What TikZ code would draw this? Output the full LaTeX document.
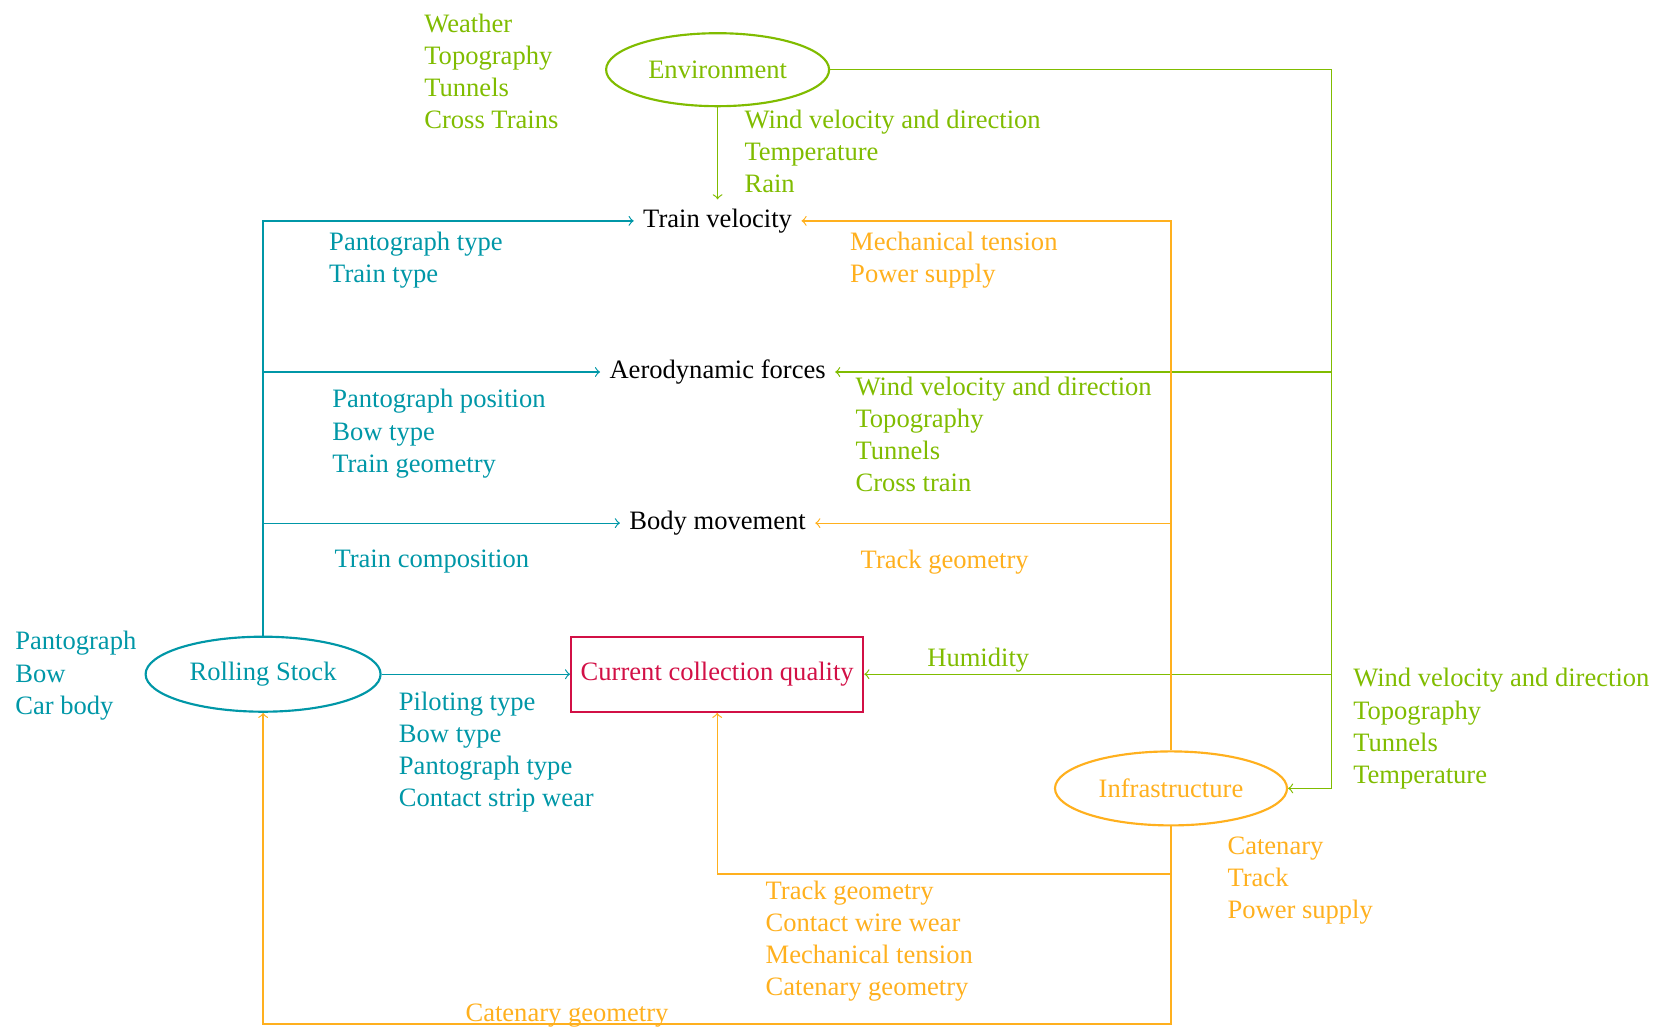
\documentclass[tikz,border=0pt]{standalone}
\usepackage{fontspec}
\setmainfont{Liberation Serif}
\usetikzlibrary{shapes.geometric}
\definecolor{cgreen}{RGB}{128,188,0}
\definecolor{cteal}{RGB}{0,151,167}
\definecolor{corange}{RGB}{255,176,30}
\definecolor{cred}{RGB}{210,16,70}
\begin{document}
\begin{tikzpicture}[x=0.3727pt,y=-0.3727pt,>=to,
  every node/.style={font=\fontsize{9.9pt}{12pt}\selectfont},
  ell/.style={ellipse,draw,line width=0.8pt,inner sep=0pt},
  lab/.style={anchor=north west,align=left,inner sep=0pt},
  gl/.style={cgreen,line width=0.45pt},
  tl/.style={cteal,line width=0.45pt},
  ol/.style={corange,line width=0.45pt}]
\useasboundingbox (0,0) rectangle (1657,1028);
% main nodes
\node[ell,cgreen,minimum width=223*0.3727pt,minimum height=73*0.3727pt] (env) at (717.6,69.7) {Environment};
\node[ell,cteal,minimum width=235*0.3727pt,minimum height=75*0.3727pt] (rs) at (263.1,674.2) {Rolling Stock};
\node[ell,corange,minimum width=232*0.3727pt,minimum height=74*0.3727pt] (infra) at (1171,788.4) {Infrastructure};
\node (tv) at (717.6,220.9) {Train velocity};
\node (aero) at (717.6,372) {Aerodynamic forces};
\node (body) at (717.6,523.1) {Body movement};
\node[draw=cred,text=cred,line width=0.8pt,minimum width=292*0.3727pt,minimum height=75*0.3727pt,inner sep=0pt] (ccq) at (717.2,674.2) {Current collection quality};
% coordinates
\coordinate (gtop) at (1331.6,69.7);
\coordinate (tbend) at (263.1,220.9);
\coordinate (obend) at (1171,220.9);
\coordinate (oloop) at (1171,874);
\coordinate (obot) at (1171,1024);
% green connectors
\draw[gl,->] (env) -- (gtop) |- (infra);
\draw[gl,->] (gtop |- aero) -- (aero);
\draw[gl,->] (gtop |- ccq) -- (ccq);
\draw[gl,->] (env) -- (tv);
% teal connectors
\draw[tl,->] (rs) -- (tbend) -- (tv);
\draw[tl,->] (tbend |- aero) -- (aero);
\draw[tl,->] (tbend |- body) -- (body);
\draw[tl,->] (rs) -- (ccq);
% orange connectors
\draw[ol,->] (infra) -- (obend) -- (tv);
\draw[ol,->] (obend |- body) -- (body);
\draw[ol,->] (infra) -- (obot) -| (rs);
\draw[ol,->] (oloop) -| (ccq);
% labels
\node[lab,cgreen] (envL) at (423.8,13.2) {Weather\\Topography\\Tunnels\\Cross Trains};
\node[lab,cgreen] (envD) at (744,109.2) {Wind velocity and direction\\Temperature\\Rain};
\node[lab,cteal] (tvT) at (328.7,231.5) {Pantograph type\\Train type};
\node[lab,corange] (tvO) at (849.7,231.5) {Mechanical tension\\Power supply};
\node[lab,cteal] (aeT) at (331.8,388.9) {Pantograph position\\Bow type\\Train geometry};
\node[lab,cgreen] (aeG) at (855,376.2) {Wind velocity and direction\\Topography\\Tunnels\\Cross train};
\node[lab,cteal] (bmT) at (334,549.5) {Train composition};
\node[lab,corange] (bmO) at (860.2,549.5) {Track geometry};
\node[lab,cteal] (rsL) at (14.8,630.9) {Pantograph\\Bow\\Car body};
\node[lab,cgreen] (hum) at (926.8,647.8) {Humidity};
\node[lab,cteal] (ccT) at (398.4,691.2) {Piloting type\\Bow type\\Pantograph type\\Contact strip wear};
\node[lab,cgreen] (infG) at (1352.7,667.9) {Wind velocity and direction\\Topography\\Tunnels\\Temperature};
\node[lab,corange] (infO) at (1227,835.9) {Catenary\\Track\\Power supply};
\node[lab,corange] (loopO) at (765.1,880.3) {Track geometry\\Contact wire wear\\Mechanical tension\\Catenary geometry};
\node[lab,corange] (catg) at (465,1002.9) {Catenary geometry};
\end{tikzpicture}
\end{document}
